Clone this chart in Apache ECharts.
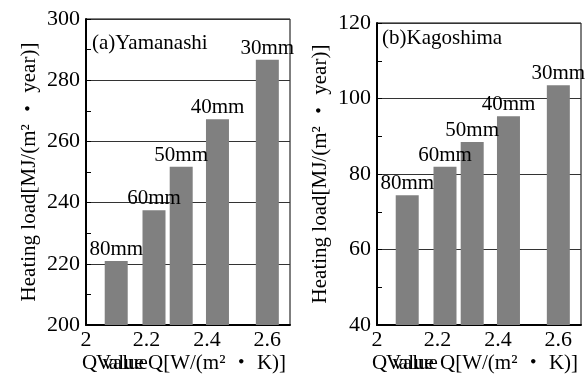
<!DOCTYPE html>
<html>
<head>
<meta charset="utf-8">
<script src="https://cdn.jsdelivr.net/npm/echarts@6/dist/echarts.min.js"></script>
<style>
  html, body { margin: 0; padding: 0; background: #fff; }
  #chart { width: 587px; height: 383px; }
</style>
</head>
<body>
<div id="chart"></div>
<script>
// Q value of each insulation thickness
var qValues = [2.1, 2.225, 2.315, 2.435, 2.6];
var thickness = ['80mm', '60mm', '50mm', '40mm', '30mm'];
// heating load per site
var loadYamanashi = [220.9, 237.5, 251.7, 267.2, 286.7];
var loadKagoshima = [74.4, 81.9, 88.5, 95.3, 103.5];
var xTicks = [2, 2.2, 2.4, 2.6];

var FONT = "'Liberation Serif', 'Noto Sans CJK JP', serif";
var yName = 'Heating load[MJ/(m² ・ year)]';

function pairs(vals) {
  var out = [];
  for (var i = 0; i < vals.length; i++) {
    out.push([qValues[i], vals[i]]);
  }
  return out;
}

function xAxisOpt(idx) {
  return {
    gridIndex: idx,
    type: 'value',
    min: 2,
    max: 2.675,
    interval: 0.2,
    axisLine: { show: true, lineStyle: { color: '#000', width: 2 } },
    axisTick: { show: false },
    splitLine: { show: false },
    axisLabel: {
      showMaxLabel: false,
      color: '#000', fontFamily: FONT, fontSize: 22, margin: 4,
      formatter: function (v) { return xTicks.indexOf(v) >= 0 ? String(v) : ''; }
    }
  };
}

function yAxisOpt(idx, min, max) {
  return {
    gridIndex: idx,
    type: 'value',
    min: min,
    max: max,
    interval: 20,
    name: yName,
    nameLocation: 'middle',
    nameRotate: 90,
    nameGap: 46,
    nameTextStyle: { color: '#000', fontFamily: FONT, fontSize: 21 },
    axisLine: { show: true, lineStyle: { color: '#000', width: 2 } },
    axisTick: { show: true, inside: true, length: 5, lineStyle: { color: '#000' } },
    minorTick: { show: true, splitNumber: 2, length: 5, lineStyle: { color: '#000' } },
    splitLine: { show: true, lineStyle: { color: '#333', width: 1 } },
    axisLabel: { color: '#000', fontFamily: FONT, fontSize: 22, margin: 6 }
  };
}

function barSeries(idx, vals) {
  return {
    type: 'bar',
    xAxisIndex: idx,
    yAxisIndex: idx,
    data: pairs(vals),
    barWidth: 23,
    itemStyle: { color: '#808080' },
    label: {
      show: true,
      position: 'top',
      distance: 1,
      color: '#000',
      fontFamily: FONT,
      fontSize: 21,
      formatter: function (p) { return thickness[p.dataIndex]; }
    }
  };
}

var chart = echarts.init(document.getElementById('chart'));
var option = {
  backgroundColor: '#fff',
  animation: false,
  grid: [
    { left: 86, right: 297, top: 19, bottom: 58, show: true, borderColor: '#000', borderWidth: 1 },
    { left: 377, right: 6, top: 23, bottom: 58, show: true, borderColor: '#000', borderWidth: 1 }
  ],
  xAxis: [xAxisOpt(0), xAxisOpt(1)],
  yAxis: [yAxisOpt(0, 200, 300), yAxisOpt(1, 40, 120)],
  series: [barSeries(0, loadYamanashi), barSeries(1, loadKagoshima)],
  graphic: [
    { type: 'text', left: 92, top: 33, style: { text: '(a)Yamanashi', font: '21px ' + FONT, fill: '#000' } },
    { type: 'text', left: 382, top: 28, style: { text: '(b)Kagoshima', font: '21px ' + FONT, fill: '#000' } },
    // x axis names (overlapping texts as in the original figure)
    { type: 'text', left: 82, top: 353, style: { text: 'Q value', font: '21px ' + FONT, fill: '#000' } },
    { type: 'text', left: 96, top: 353, style: { text: 'Value', font: '21px ' + FONT, fill: '#000' } },
    { type: 'text', left: 148, top: 353, style: { text: 'Q[W/(m² ・ K)]', font: '21px ' + FONT, fill: '#000' } },
    { type: 'text', left: 372, top: 353, style: { text: 'Q value', font: '21px ' + FONT, fill: '#000' } },
    { type: 'text', left: 386, top: 353, style: { text: 'Value', font: '21px ' + FONT, fill: '#000' } },
    { type: 'text', left: 440, top: 353, style: { text: 'Q[W/(m² ・ K)]', font: '21px ' + FONT, fill: '#000' } }
  ]
};
chart.setOption(option);
window.addEventListener('resize', function () { chart.resize(); });
</script>
</body>
</html>
